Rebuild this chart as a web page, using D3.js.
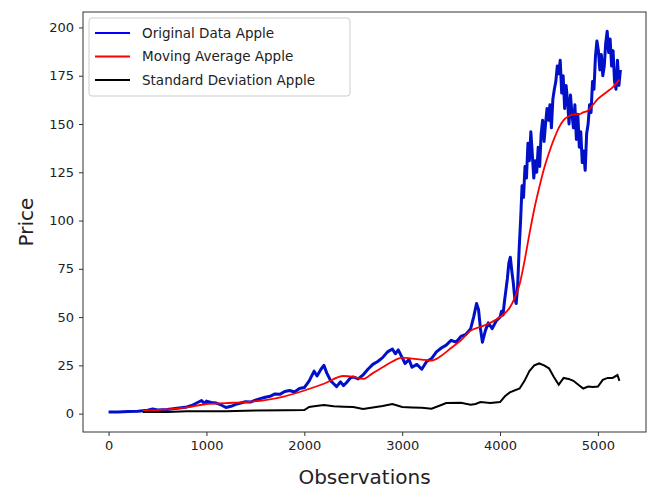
<!DOCTYPE html>
<html>
<head>
<meta charset="utf-8">
<script src="https://cdn.jsdelivr.net/npm/d3@7"></script>
<style>
  body { margin: 0; background: #fff; }
  text { font-family: "DejaVu Sans", sans-serif; fill: #222; }
</style>
</head>
<body>
<div id="chart"></div>
<script>
// Original data (observation index, price)
var origObs = [0,100,200,300,400,450,500,600,700,800,850,900,950,980,1000,1050,1100,1150,1200,1250,1300,1350,1400,1450,1500,1550,1600,1650,1700,1750,1800,1850,1900,1950,2000,2050,2100,2130,2170,2200,2230,2270,2300,2330,2370,2400,2430,2470,2500,2550,2600,2650,2700,2750,2800,2850,2900,2930,2960,3000,3030,3070,3100,3150,3200,3250,3300,3350,3400,3450,3500,3550,3600,3650,3700,3730,3760,3780,3800,3820,3850,3880,3920,3960,
  4000,4015,4030,4045,4060,4075,4090,4105,4120,4135,4150,4165,4180,4195,4210,4225,4240,4255,4270,4285,4300,4315,4330,4345,4360,4375,4390,4405,4420,4435,4450,4465,4480,4495,4510,4525,4540,4555,4570,4585,4600,4615,4630,4645,4660,4675,4690,4705,4720,4735,4750,4765,4780,4795,4810,4825,4840,4855,4870,4885,4900,4915,4930,4945,4960,4975,4990,5005,5020,5035,5050,5065,5080,5095,5110,5125,5140,5155,5170,5185,5200,5215,5230];
var origVal = [0.8,0.9,1.1,1.3,1.8,2.4,1.9,2.2,2.8,3.5,4.2,5.5,6.8,5.2,6.5,5.8,5.5,4.5,3.2,3.8,4.8,5.5,6.2,6.0,7.0,7.8,8.5,9.0,10.2,10.0,11.5,12.0,11.2,13.0,13.5,17,22,19.5,23,25,21,17,15.5,14,16.5,14.5,16,18.5,19,18,20,23,25.5,27,29,32,33.5,31,33,29,26,28,24,25.5,23,27,28.5,32,34,35.5,38,37,40,41,44,50,57,54,44,37,43,47,44,48,
  50,53,51,58,64,70,78,81,74,68,60,57,66,85,100,118,112,128,122,140,131,146,134,122,131,125,138,128,145,152,141,150,158,152,160,148,163,168,172,180,176,183,166,175,158,170,162,150,165,155,148,160,142,155,138,146,130,136,126,145,150,160,156,172,168,185,193,188,178,186,175,180,192,198,187,194,180,188,172,168,183,170,178];

// Moving average
var maObs = [350,600,800,1000,1200,1400,1600,1800,2000,2200,2400,2500,2600,2700,2800,2900,3000,3100,3200,3300,3400,3500,3600,3700,3800,3900,4000,4050,4100,4150,4200,4250,4300,4350,4400,4450,4500,4550,4600,4650,4700,4750,4800,4850,4900,4950,5000,5050,5100,5150,5220];
var maVal = [1.5,2.2,3.2,5,5.5,6,7,9,12,15.5,19.5,19,18,21,24,27,29,28.5,28,27.5,30,34,38,43,45,47,50,52,55,60,67,79,93,106,117,127,135,142,148,152,154,155,155,156,157,160,163,165,167,169,173];

// Standard deviation
var sdObs = [350,600,800,1000,1200,1500,1800,2000,2050,2100,2200,2300,2400,2500,2600,2700,2800,2900,3000,3100,3200,3300,3400,3450,3600,3700,3750,3800,3900,4000,4050,4100,4200,4250,4300,4350,4400,4450,4500,4550,4600,4650,4700,4750,4800,4850,4900,4950,5000,5050,5100,5150,5200,5220];
var sdVal = [0.8,0.9,1.2,1.3,1.2,1.6,1.8,1.9,3.5,3.8,4.5,3.8,3.6,3.4,2.4,3.2,4,5,3.5,3.2,3,2.6,4.5,5.5,5.6,4.6,5,6,5.5,6,9,11,13,17,22,25,26,25,23.5,19,15,18.5,18,17,15,13,14,13.8,14,17.5,18.5,18.5,20,17];

var xTicks = [0,1000,2000,3000,4000,5000];
var yTicks = [0,25,50,75,100,125,150,175,200];
var legendLabels = ["Original Data Apple","Moving Average Apple","Standard Deviation Apple"];
var legendColors = ["#0000ff","#ff0000","#000000"];

var W = 654, H = 488;
var margin = {top: 12, right: 8, bottom: 56, left: 83},
    width = W - margin.left - margin.right,
    height = H - margin.top - margin.bottom;

var svg = d3.select("#chart").append("svg")
    .attr("width", W).attr("height", H)
  .append("g")
    .attr("transform", "translate(" + margin.left + "," + margin.top + ")");

var x = d3.scaleLinear().domain([-261.5, 5491.5]).range([0, width]);
var y = d3.scaleLinear().domain([-9.5, 208]).range([height, 0]);

// axes
var xAxis = svg.append("g")
  .attr("transform", "translate(0," + height + ")")
  .call(d3.axisBottom(x).tickValues(xTicks).tickSize(4).tickPadding(5).tickFormat(d3.format("d")));
var yAxis = svg.append("g")
  .call(d3.axisLeft(y).tickValues(yTicks).tickSize(4).tickPadding(5).tickFormat(d3.format("d")));
[xAxis, yAxis].forEach(function(a) {
  a.select(".domain").remove();
  a.selectAll(".tick line").attr("stroke", "#333");
  a.selectAll(".tick text").style("font-size", "13px").attr("fill", "#222")
    .style("font-family", "DejaVu Sans, sans-serif");
});

// frame
svg.append("rect")
  .attr("width", width).attr("height", height)
  .attr("fill", "none").attr("stroke", "#333").attr("stroke-width", 1);

// lines
var line = d3.line().x(function(d) { return x(d[0]); }).y(function(d) { return y(d[1]); });

svg.append("path")
  .datum(d3.zip(origObs, origVal))
  .attr("d", line)
  .attr("fill", "none").attr("stroke", "#0010c8").attr("stroke-width", 3)
  .attr("stroke-linejoin", "round");

svg.append("path")
  .datum(d3.zip(maObs, maVal))
  .attr("d", line.curve(d3.curveMonotoneX))
  .attr("fill", "none").attr("stroke", "#ff0000").attr("stroke-width", 1.8);

svg.append("path")
  .datum(d3.zip(sdObs, sdVal))
  .attr("d", line.curve(d3.curveLinear))
  .attr("fill", "none").attr("stroke", "#000").attr("stroke-width", 2);

// axis labels
svg.append("text")
  .attr("x", width / 2).attr("y", height + 52)
  .style("text-anchor", "middle").style("font-size", "20px")
  .text("Observations");

svg.append("text")
  .attr("transform", "rotate(-90)")
  .attr("x", -height / 2).attr("y", -50)
  .style("text-anchor", "middle").style("font-size", "20px")
  .text("Price");

// legend
var lg = svg.append("g").attr("transform", "translate(6,6)");
lg.append("rect")
  .attr("width", 261).attr("height", 78).attr("rx", 3)
  .attr("fill", "#fff").attr("fill-opacity", 0.8)
  .attr("stroke", "#ccc");
legendLabels.forEach(function(l, i) {
  var yy = 15 + i * 23.5;
  lg.append("line").attr("x1", 6).attr("x2", 41).attr("y1", yy).attr("y2", yy)
    .attr("stroke", legendColors[i]).attr("stroke-width", 1.8);
  lg.append("text").attr("x", 53).attr("y", yy).attr("dy", "0.35em")
    .style("font-size", "13.5px").text(l);
});
</script>
</body>
</html>
